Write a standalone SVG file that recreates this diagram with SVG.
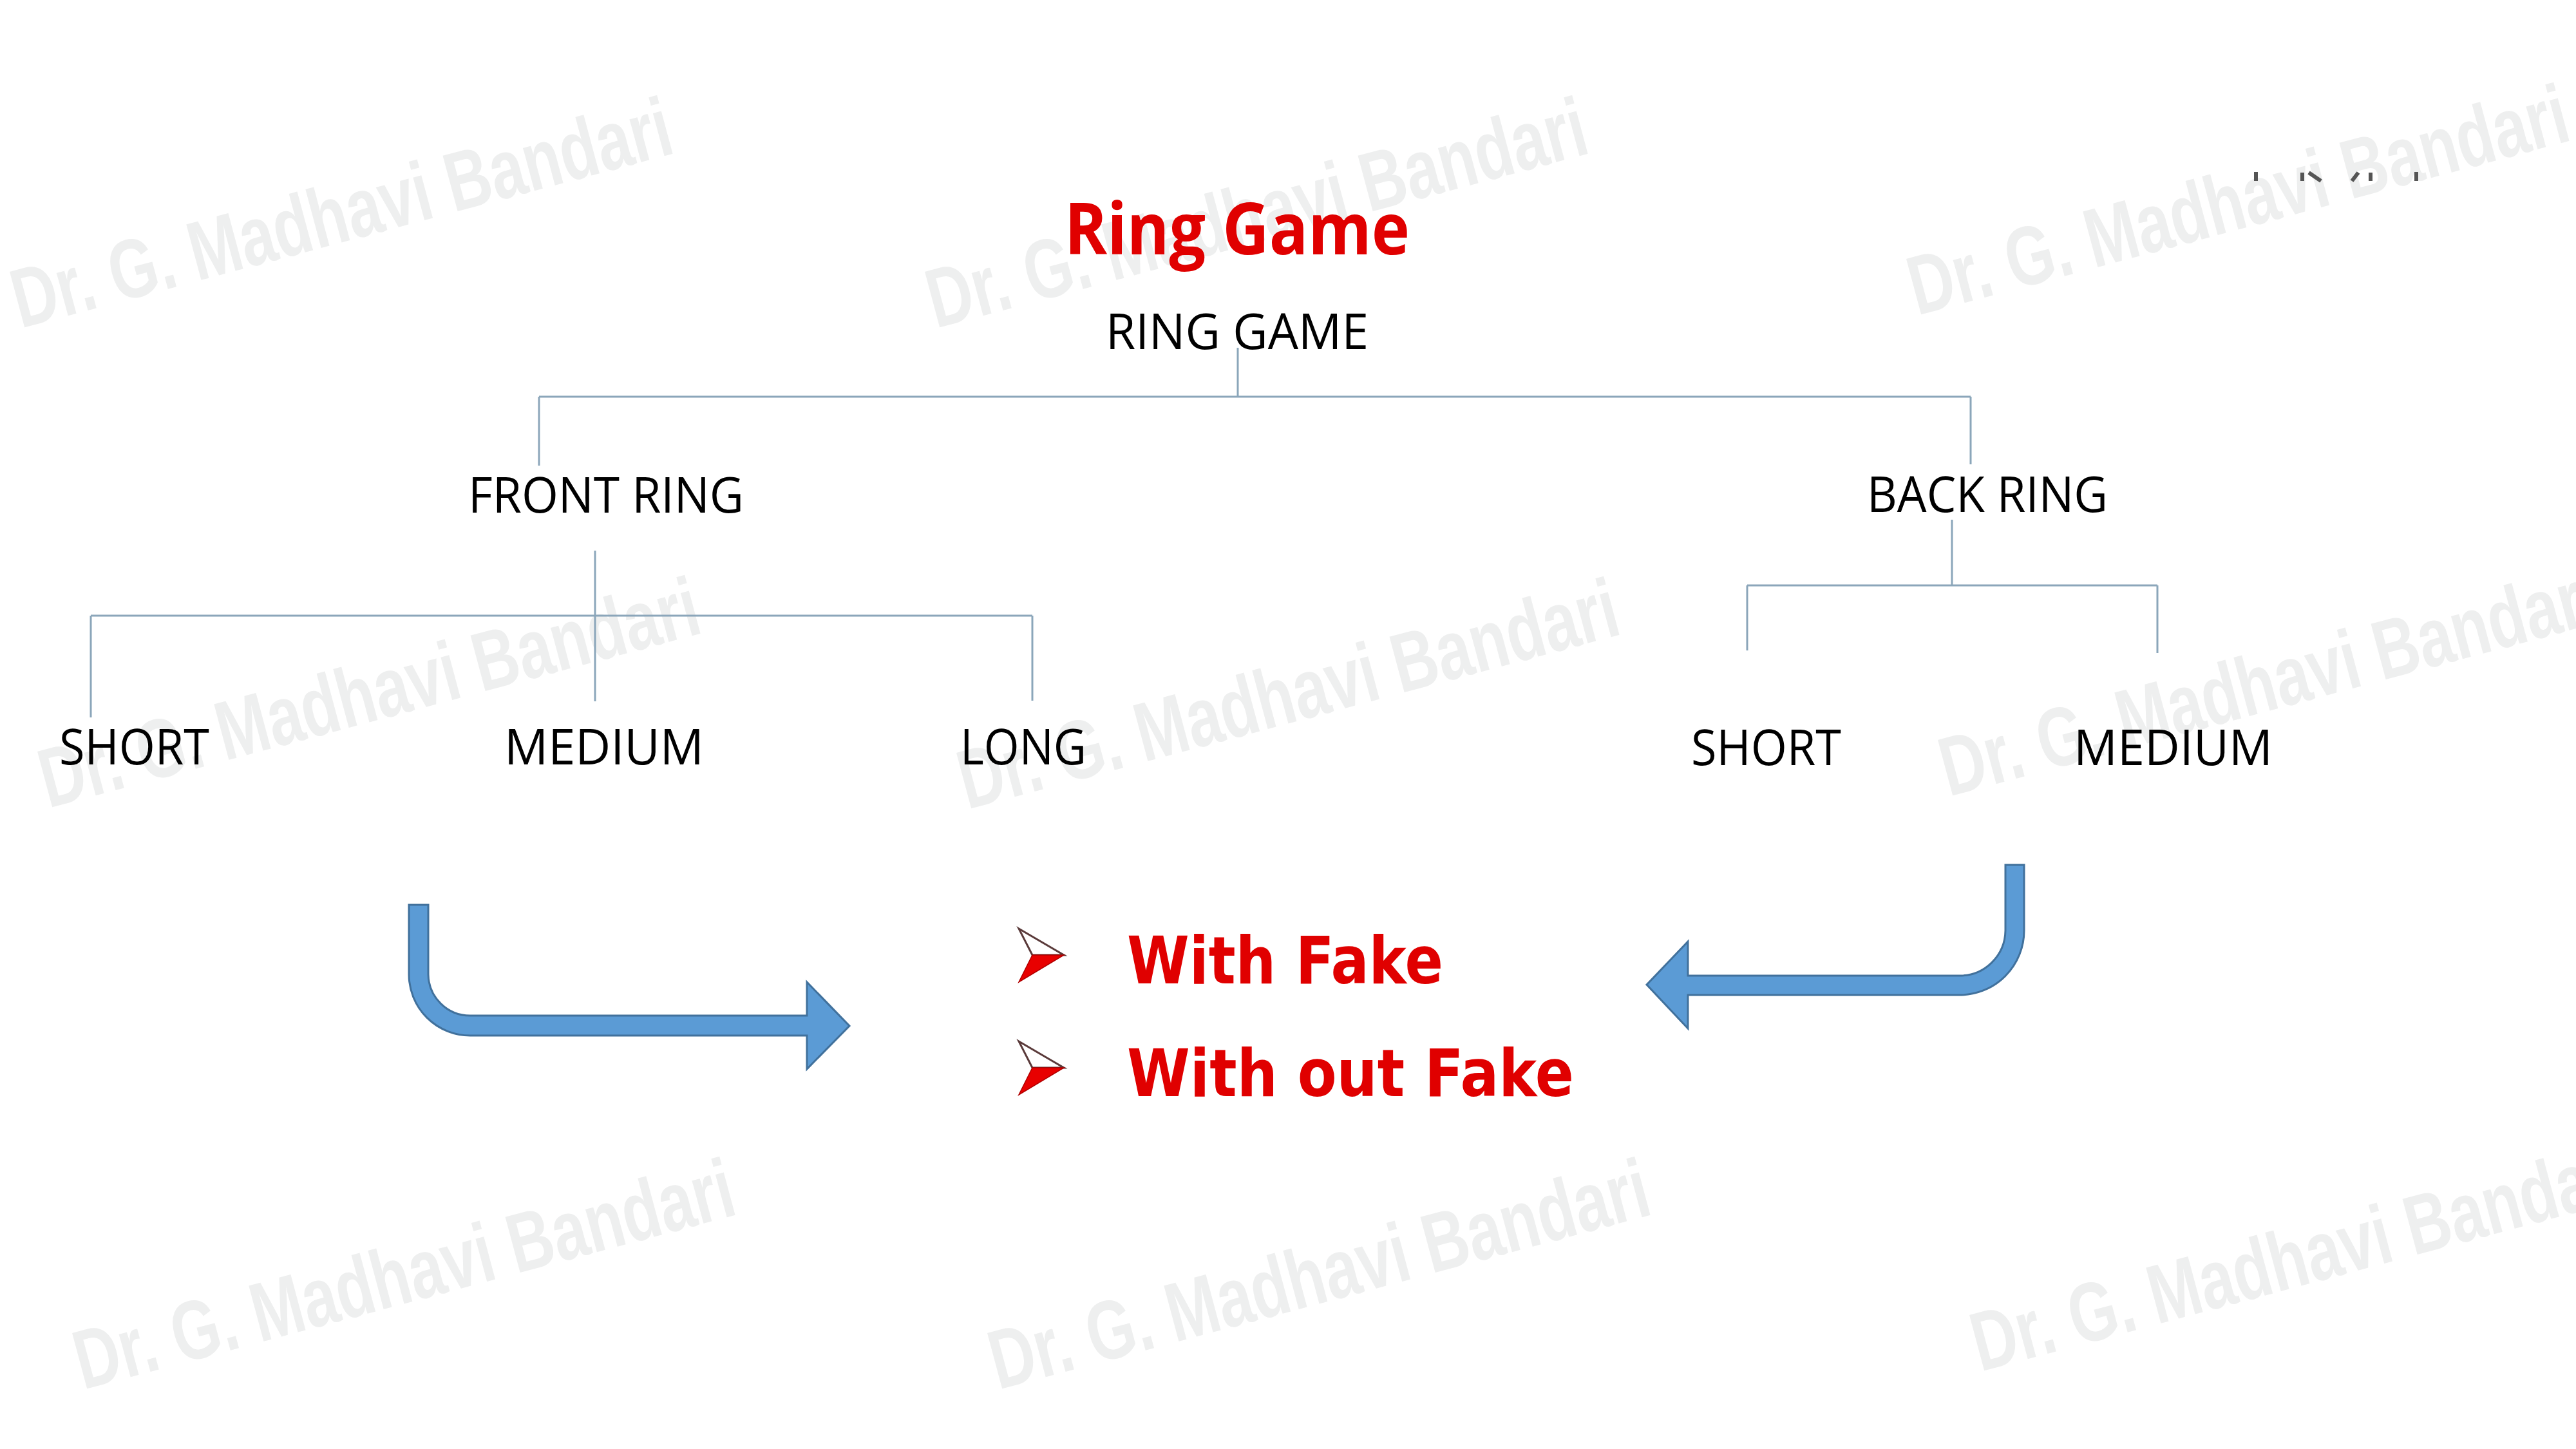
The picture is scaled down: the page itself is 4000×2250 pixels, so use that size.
<svg xmlns="http://www.w3.org/2000/svg" width="4000" height="2250" viewBox="0 0 4000 2250">
<style>
.wm{font-family:"Liberation Sans Narrow","Liberation Sans",sans-serif;font-weight:bold;font-size:130px;fill:#eeefef}
.lbl{font-family:"Open Sans","Noto Sans",sans-serif;font-size:77px;fill:#000}
.title{font-family:"Open Sans","Noto Sans",sans-serif;font-weight:bold;font-size:112px;fill:#e00000}
.item{font-family:"DejaVu Sans","Verdana",sans-serif;font-weight:bold;font-size:101px;fill:#e00000}
.conn{stroke:#8ba6ba;stroke-width:3;fill:none}
.barrow{fill:#5b9bd5;stroke:#41719c;stroke-width:3;stroke-linejoin:miter}
.bul-top{fill:#fff;stroke:#5a3a3a;stroke-width:3;stroke-linejoin:miter}
.bul-bot{fill:#e80000;stroke:#b00000;stroke-width:1.5}
.frag{stroke:#555;stroke-width:6}
</style>
<rect width="4000" height="2250" fill="#fff"/>
<g id="watermarks">
<text class="wm" transform="translate(32,510) rotate(-15)" textLength="1055" lengthAdjust="spacingAndGlyphs">Dr. G. Madhavi Bandari</text>
<text class="wm" transform="translate(1453,510) rotate(-15)" textLength="1055" lengthAdjust="spacingAndGlyphs">Dr. G. Madhavi Bandari</text>
<text class="wm" transform="translate(2977,490) rotate(-15)" textLength="1055" lengthAdjust="spacingAndGlyphs">Dr. G. Madhavi Bandari</text>
<text class="wm" transform="translate(75,1255) rotate(-15)" textLength="1055" lengthAdjust="spacingAndGlyphs">Dr. G. Madhavi Bandari</text>
<text class="wm" transform="translate(1502,1257) rotate(-15)" textLength="1055" lengthAdjust="spacingAndGlyphs">Dr. G. Madhavi Bandari</text>
<text class="wm" transform="translate(3026,1237) rotate(-15)" textLength="1055" lengthAdjust="spacingAndGlyphs">Dr. G. Madhavi Bandari</text>
<text class="wm" transform="translate(129,2158) rotate(-15)" textLength="1055" lengthAdjust="spacingAndGlyphs">Dr. G. Madhavi Bandari</text>
<text class="wm" transform="translate(1550,2158) rotate(-15)" textLength="1055" lengthAdjust="spacingAndGlyphs">Dr. G. Madhavi Bandari</text>
<text class="wm" transform="translate(3075,2130) rotate(-15)" textLength="1055" lengthAdjust="spacingAndGlyphs">Dr. G. Madhavi Bandari</text>
</g>
<g id="fragments">
<line class="frag" x1="3503" y1="267" x2="3503" y2="281"/>
<line class="frag" x1="3575" y1="268" x2="3575" y2="281"/>
<line class="frag" x1="3585" y1="268" x2="3604" y2="281"/>
<line class="frag" x1="3662" y1="268" x2="3652" y2="281"/>
<line class="frag" x1="3681" y1="268" x2="3681" y2="281"/>
<line class="frag" x1="3752" y1="267" x2="3752" y2="281"/>
</g>
<g id="connectors">
<line class="conn" x1="1922" y1="540" x2="1922" y2="616"/>
<line class="conn" x1="837" y1="616" x2="3060" y2="616"/>
<line class="conn" x1="837" y1="616" x2="837" y2="723"/>
<line class="conn" x1="3060" y1="616" x2="3060" y2="721"/>
<line class="conn" x1="924" y1="855" x2="924" y2="1089"/>
<line class="conn" x1="141" y1="956" x2="1603" y2="956"/>
<line class="conn" x1="141" y1="956" x2="141" y2="1114"/>
<line class="conn" x1="1603" y1="956" x2="1603" y2="1088"/>
<line class="conn" x1="3031" y1="807" x2="3031" y2="909"/>
<line class="conn" x1="2713" y1="909" x2="3350" y2="909"/>
<line class="conn" x1="2713" y1="909" x2="2713" y2="1010"/>
<line class="conn" x1="3350" y1="909" x2="3350" y2="1014"/>
</g>
<g id="title">
<text class="title" x="1653" y="395" textLength="536" lengthAdjust="spacingAndGlyphs">Ring Game</text>
</g>
<g id="ring-game"><text class="lbl" x="1717" y="542" textLength="408" lengthAdjust="spacingAndGlyphs">RING GAME</text></g>
<g id="front-ring"><text class="lbl" x="727" y="796" textLength="428" lengthAdjust="spacingAndGlyphs">FRONT RING</text></g>
<g id="back-ring"><text class="lbl" x="2899" y="795" textLength="374" lengthAdjust="spacingAndGlyphs">BACK RING</text></g>
<g id="front-short"><text class="lbl" x="92" y="1187" textLength="233" lengthAdjust="spacingAndGlyphs">SHORT</text></g>
<g id="front-medium"><text class="lbl" x="783" y="1187" textLength="310" lengthAdjust="spacingAndGlyphs">MEDIUM</text></g>
<g id="front-long"><text class="lbl" x="1491" y="1187" textLength="196" lengthAdjust="spacingAndGlyphs">LONG</text></g>
<g id="back-short"><text class="lbl" x="2626" y="1188" textLength="233" lengthAdjust="spacingAndGlyphs">SHORT</text></g>
<g id="back-medium"><text class="lbl" x="3220" y="1188" textLength="309" lengthAdjust="spacingAndGlyphs">MEDIUM</text></g>
<g id="left-arrow">
<path class="barrow" d="M635,1405 V1513 A95,95 0 0 0 730,1608 H1253 V1660 L1319,1593 L1253,1525 V1577 H730 A65,65 0 0 1 665,1513 V1405 Z"/>
</g>
<g id="right-arrow">
<path class="barrow" d="M3114,1343 H3143 V1445 A100,100 0 0 1 3043,1545 H2621 V1597 L2557,1529 L2621,1462 V1515 H3043 A71,71 0 0 0 3114,1445 Z"/>
</g>
<g id="item-with-fake">
<polygon class="bul-top" points="1582,1442 1652,1483 1603,1483"/>
<polygon class="bul-bot" points="1603,1483 1652,1483 1582,1525"/>
<text class="item" x="1750" y="1527" textLength="491" lengthAdjust="spacingAndGlyphs">With Fake</text>
</g>
<g id="item-without-fake">
<polygon class="bul-top" points="1582,1617 1652,1658 1603,1658"/>
<polygon class="bul-bot" points="1603,1658 1652,1658 1582,1700"/>
<text class="item" x="1750" y="1702" textLength="694" lengthAdjust="spacingAndGlyphs">With out Fake</text>
</g>
</svg>
